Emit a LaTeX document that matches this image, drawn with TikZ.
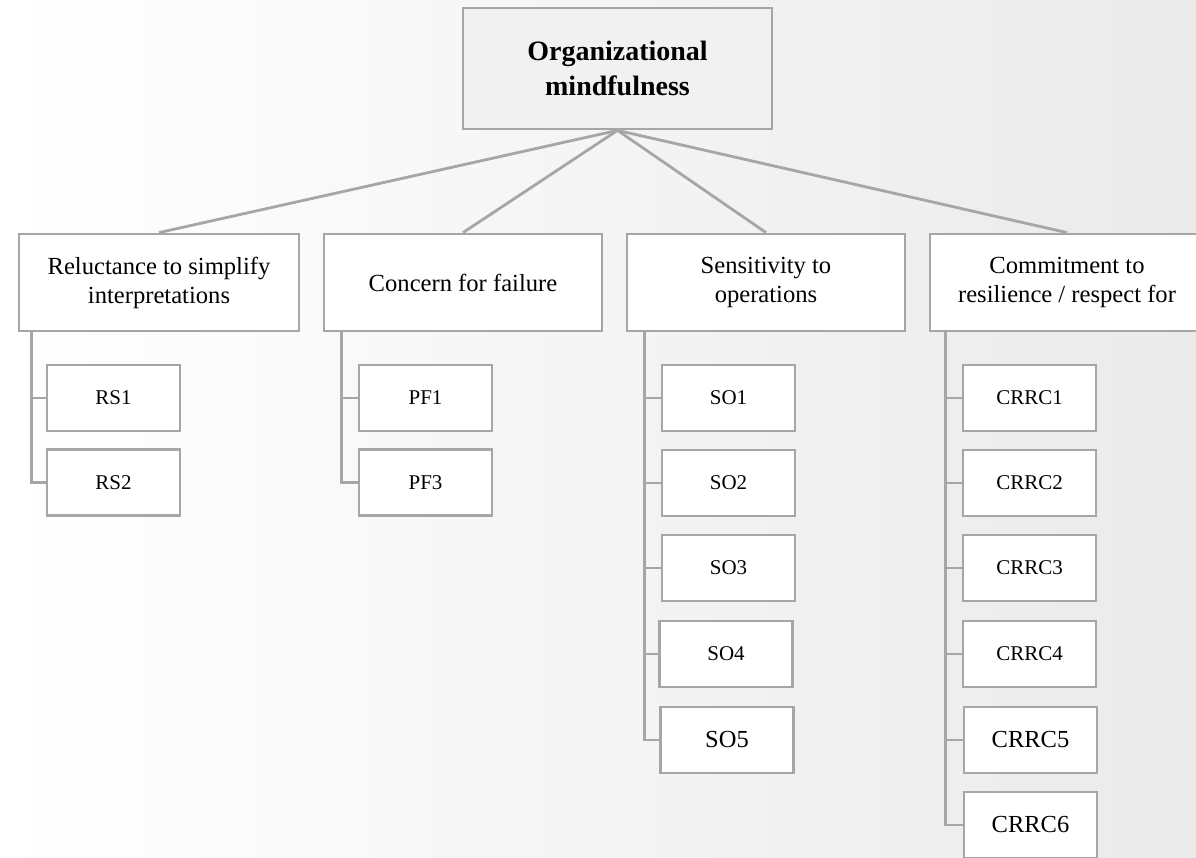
\documentclass[tikz,border=0pt]{standalone}
\usepackage{fontspec}
\setmainfont{Liberation Serif}
\definecolor{linegray}{HTML}{A6A6A6}
\definecolor{bgright}{HTML}{EAEAEA}
\definecolor{topfill}{HTML}{F1F1F1}
\begin{document}
\begin{tikzpicture}[x=1pt,y=-1pt,
  conn/.style={draw=linegray, line width=2.8pt},
  box/.style={draw=linegray, line width=2.8pt, fill=white, inner sep=0pt, align=center},
  topbox/.style={box, fill=topfill, minimum width=309pt, minimum height=121pt, font=\fontsize{28}{35}\selectfont\bfseries},
  dimbox/.style={box, minimum height=97pt, font=\fontsize{24.6}{29}\selectfont},
  leaf/.style={box, minimum width=133pt, minimum height=66pt, font=\fontsize{21}{25}\selectfont},
  bigleaf/.style={leaf, font=\fontsize{24.5}{29}\selectfont}]
\useasboundingbox (0,0) rectangle (1196,858);
\shade[left color=white, right color=bgright] (0,0) rectangle (1196,858);

\node[topbox] (top) at (617.5,68.5) {Organizational\\mindfulness};

\node[dimbox, minimum width=280pt] (rs) at (159,282.5) {Reluctance to simplify\\interpretations};
\node[dimbox, minimum width=278pt] (pf) at (463,282.5) {Concern for failure};
\node[dimbox, minimum width=278pt] (so) at (766,282.5) {Sensitivity to\\operations};
\node[dimbox, minimum width=274pt] (cr) at (1067,282.5) {Commitment to\\resilience / respect for};

\draw[conn] (top.south) -- (rs.north);
\draw[conn] (top.south) -- (pf.north);
\draw[conn] (top.south) -- (so.north);
\draw[conn] (top.south) -- (cr.north);

% leaves
\node[leaf] (rs1) at (113.5,398) {RS1};
\node[leaf] (rs2) at (113.5,482.5) {RS2};
\node[leaf] (pf1) at (425.5,398) {PF1};
\node[leaf] (pf3) at (425.5,482.5) {PF3};
\node[leaf] (so1) at (728.5,398) {SO1};
\node[leaf] (so2) at (728.5,483) {SO2};
\node[leaf] (so3) at (728.5,568) {SO3};
\node[leaf] (so4) at (726,654) {SO4};
\node[bigleaf] (so5) at (727,740) {SO5};
\node[leaf] (cr1) at (1029.5,398) {CRRC1};
\node[leaf] (cr2) at (1029.5,483) {CRRC2};
\node[leaf] (cr3) at (1029.5,568) {CRRC3};
\node[leaf] (cr4) at (1029.5,654) {CRRC4};
\node[bigleaf] (cr5) at (1030.5,740) {CRRC5};
\node[bigleaf] (cr6) at (1030.5,825) {CRRC6};

% trunks
\coordinate (rsT) at ([xshift=14pt]rs.south west);
\coordinate (pfT) at ([xshift=19pt]pf.south west);
\coordinate (soT) at ([xshift=19pt]so.south west);
\coordinate (crT) at ([xshift=17pt]cr.south west);

\draw[conn] (rsT) |- (rs2.west);
\draw[conn] (rs1.west) -- (rs1.west -| rsT);

\draw[conn] (pfT) |- (pf3.west);
\draw[conn] (pf1.west) -- (pf1.west -| pfT);

\draw[conn] (soT) |- (so5.west);
\foreach \n in {so1,so2,so3,so4}
  \draw[conn] (\n.west) -- (\n.west -| soT);

\draw[conn] (crT) |- (cr6.west);
\foreach \n in {cr1,cr2,cr3,cr4,cr5}
  \draw[conn] (\n.west) -- (\n.west -| crT);
\end{tikzpicture}
\end{document}
